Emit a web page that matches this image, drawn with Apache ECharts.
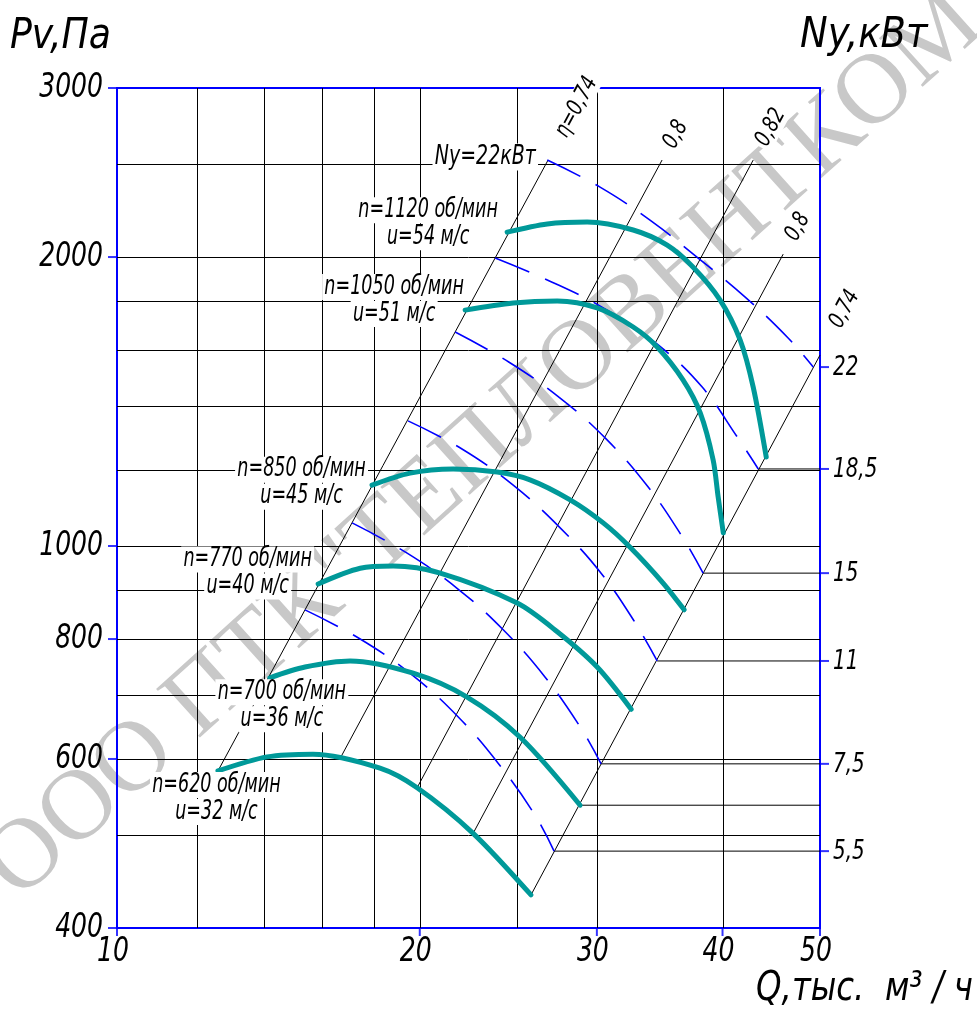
<!DOCTYPE html>
<html>
<head>
<meta charset="utf-8">
<script src="https://cdn.jsdelivr.net/npm/echarts@6/dist/echarts.min.js"></script>
<style>
html, body { margin: 0; padding: 0; background: #fff; }
#chart { width: 977px; height: 1015px; }
</style>
</head>
<body>
<div id="chart"></div>
<script>
// axes
var qMin = 10, qMax = 50, pMin = 400, pMax = 3000;
var qTicks = [10, 20, 30, 40, 50];
var pTicks = [400, 600, 800, 1000, 2000, 3000];
var qGrid = [12, 14, 16, 18, 20, 25, 30, 40];
var pGrid = [500, 600, 700, 800, 900, 1000, 1200, 1400, 1600, 1800, 2000, 2500];

// характеристики вентилятора (Q тыс. м3/ч, Pv Па)
var q620 = [12.6, 14.1, 15.66, 18.26, 19.88, 22.6, 25.8];
var p620 = [583, 603, 607, 587, 560, 502, 433];
var q700 = [14.19, 15.38, 17.05, 19.7, 22.29, 25.17, 28.87];
var p700 = [729, 748, 759, 737, 696, 632, 537];
var q770 = [15.85, 17.45, 18.82, 20.96, 25.0, 27.4, 30.02, 32.45];
var p770 = [913, 948, 953, 937, 872, 814, 748, 676];
var q850 = [17.93, 19.56, 21.59, 23.88, 25.74, 28.22, 30.44, 32.37, 34.91, 36.64];
var p850 = [1157, 1191, 1203, 1194, 1172, 1117, 1057, 997, 915, 858];
var q1050 = [22.19, 24.77, 27.4, 30.02, 32.6, 34.44, 36.55, 38.01, 39.15, 39.6, 40.07];
var p1050 = [1761, 1791, 1800, 1770, 1691, 1612, 1489, 1376, 1229, 1125, 1032];
var q1120 = [24.43, 26.78, 29.34, 32.6, 35.24, 37.4, 39.78, 41.65, 42.91, 44.21];
var p1120 = [2123, 2165, 2175, 2134, 2058, 1952, 1804, 1639, 1464, 1238];
var speeds = ['620', '700', '770', '850', '1050', '1120'];
var tipSpeeds = ['32', '36', '40', '45', '51', '54'];

// линии КПД (низ и верх)
var etaNames = ['η=0,74', '0,8', '0,82', '0,8', '0,74'];
var etaQ = [[12.6, 26.83], [16.67, 34.83], [19.88, 42.91], [22.6, 45.96], [25.8, 50]];
var etaP = [[583, 2524], [601, 2524], [560, 2524], [502, 2014], [433, 1581]];

// линии мощности Ny
var powerNames = ['22', '18,5', '15', '11', '7,5', '5,5'];
var qN22 = [26.78, 30.22, 33.96, 37.83, 42.13, 46.48, 49.23];
var pN22 = [2524, 2365, 2181, 1995, 1817, 1647, 1536];
var qN185 = [23.77, 27.08, 30.72, 34.52, 38.18, 41.37, 43.41];
var pN185 = [1995, 1883, 1761, 1620, 1464, 1299, 1203];
var qN15 = [21.69, 24.54, 27.58, 30.64, 33.74, 36.55, 38.26];
var pN15 = [1671, 1554, 1426, 1293, 1152, 1019, 937];
var qN11 = [19.47, 22.03, 24.77, 27.52, 30.29, 32.82, 34.44];
var pN11 = [1350, 1262, 1157, 1047, 937, 829, 759];
var qN75 = [17.13, 19.43, 21.83, 24.21, 26.65, 28.93, 30.29];
var pN75 = [1057, 983, 902, 818, 730, 646, 593];
var qN55 = [15.38, 17.45, 19.65, 21.83, 23.93, 26.05, 27.2];
var pN55 = [858, 800, 734, 664, 594, 524, 481];

var FONT = '"DejaVu Sans Condensed", "DejaVu Sans", sans-serif';
var BLUE = '#0000ff';
var TEAL = '#009999';

var curveQ = [q620, q700, q770, q850, q1050, q1120];
var curveP = [p620, p700, p770, p850, p1050, p1120];
var powerQ = [qN22, qN185, qN15, qN11, qN75, qN55];
var powerP = [pN22, pN185, pN15, pN11, pN75, pN55];

// сдвиг подписей, px
var curveLabelShift = [[-1.5, 27.5], [12, 28], [-70.5, -11], [-70.5, -2], [-71, -9.5], [-79, -8.5]];
var etaLabelShift = [60, 29, 37, 31, 52];
var ETA_ANGLE = 61.6 * Math.PI / 180;

function pairs(qs, ps) {
    return qs.map(function (q, i) { return [q, ps[i]]; });
}
function last(a) { return a[a.length - 1]; }

// узкий наклонный текст
function textEl(x, y, text, size, opts) {
    opts = opts || {};
    return {
        type: 'text', x: x, y: y,
        rotation: opts.rotation || 0,
        scaleX: opts.scaleX || 0.8,
        style: {
            text: text, font: 'italic ' + size + 'px ' + FONT, fill: '#000',
            align: opts.align || 'center', verticalAlign: 'middle',
            backgroundColor: opts.bg || null, padding: opts.bg ? [0, 3] : 0
        }
    };
}
function labelSeries(anchors, build, z) {
    return {
        type: 'custom', silent: true, z: z || 10,
        data: anchors,
        renderItem: function (params, api) {
            var c = api.coord([api.value(0), api.value(1)]);
            return { type: 'group', children: build(params.dataIndex, c) };
        }
    };
}

var series = [];

// сетка
series.push({
    type: 'custom',
    silent: true,
    z: 1,
    data: qGrid.map(function (v) { return [v, pMin]; }).concat(pGrid.map(function (v) { return [qMin, v]; })),
    renderItem: function (params, api) {
        var a, b;
        if (params.dataIndex < qGrid.length) {
            a = api.coord([api.value(0), pMin]);
            b = api.coord([api.value(0), pMax]);
            var x = Math.round(a[0]) + 0.5;
            return { type: 'line', shape: { x1: x, y1: a[1], x2: x, y2: b[1] }, style: { stroke: '#000', lineWidth: 1 } };
        }
        a = api.coord([qMin, api.value(1)]);
        b = api.coord([qMax, api.value(1)]);
        var y = Math.round(a[1]) + 0.5;
        return { type: 'line', shape: { x1: a[0], y1: y, x2: b[0], y2: y }, style: { stroke: '#000', lineWidth: 1 } };
    }
});

// линии КПД
etaQ.forEach(function (qs, i) {
    series.push({
        type: 'line', silent: true, z: 3, symbol: 'none',
        lineStyle: { color: '#000', width: 1 },
        data: pairs(qs, etaP[i])
    });
});

// линии мощности и выноски к правой оси
powerQ.forEach(function (qs, i) {
    series.push({
        type: 'line', silent: true, z: 4, symbol: 'none', smooth: 0.4,
        lineStyle: { color: BLUE, width: 1.6, type: [37, 17] },
        data: pairs(qs, powerP[i])
    });
    if (i > 0) {
        series.push({
            type: 'line', silent: true, z: 3, symbol: 'none',
            lineStyle: { color: '#000', width: 1 },
            data: [[last(qs), last(powerP[i])], [qMax, last(powerP[i])]]
        });
    }
});
series.push({
    type: 'line', silent: true, z: 3, symbol: 'none',
    lineStyle: { color: '#000', width: 1 },
    data: [[last(q700), last(p700)], [qMax, last(p700)]]
});

// характеристики
curveQ.forEach(function (qs, i) {
    series.push({
        type: 'line', silent: true, z: 5, symbol: 'none', smooth: 0.3,
        lineStyle: { color: TEAL, width: 5, cap: 'round', join: 'round' },
        data: pairs(qs, curveP[i])
    });
});

// подписи характеристик
series.push(labelSeries(curveQ.map(function (qs, i) { return [qs[0], curveP[i][0]]; }), function (i, c) {
    var cx = c[0] + curveLabelShift[i][0], cy = c[1] + curveLabelShift[i][1];
    return [
        textEl(cx, cy - 13.5, 'n=' + speeds[i] + ' об/мин', 26, { scaleX: 0.75, bg: '#fff' }),
        textEl(cx, cy + 13.5, 'u=' + tipSpeeds[i] + ' м/с', 26, { scaleX: 0.75, bg: '#fff' })
    ];
}));

// подписи КПД
series.push(labelSeries(etaQ.map(function (qs, i) { return [qs[1], etaP[i][1]]; }), function (i, c) {
    var d = etaLabelShift[i];
    return [textEl(c[0] + d * Math.cos(ETA_ANGLE), c[1] - d * Math.sin(ETA_ANGLE), etaNames[i], 23,
        { rotation: ETA_ANGLE, scaleX: 0.85, bg: '#fff' })];
}));

// Ny=22кВт
series.push(labelSeries([[qN22[0], pN22[0]]], function (i, c) {
    return [textEl(c[0] - 62, c[1] - 3, 'Ny=' + powerNames[0] + 'кВт', 27, { scaleX: 0.78, bg: '#fff' })];
}));

// деления осей
series.push({
    type: 'scatter', silent: true, z: 6, clip: false,
    symbol: 'rect', symbolSize: [9, 2], symbolOffset: [-4.5, 0], itemStyle: { color: BLUE },
    data: pTicks.map(function (v) { return [qMin, v]; })
});
series.push({
    type: 'scatter', silent: true, z: 6, clip: false,
    symbol: 'rect', symbolSize: [2, 8], symbolOffset: [0, 4], itemStyle: { color: BLUE },
    data: qTicks.map(function (v) { return [v, pMin]; })
});
series.push({
    type: 'scatter', silent: true, z: 6, clip: false,
    symbol: 'rect', symbolSize: [9, 2], symbolOffset: [4.5, 0], itemStyle: { color: BLUE },
    data: powerP.map(function (ps) { return [qMax, last(ps)]; })
});

series.push(labelSeries(pTicks.map(function (v) { return [qMin, v]; }), function (i, c) {
    return [textEl(c[0] - 14, c[1], String(pTicks[i]), 34, { align: 'right', scaleX: 0.82 })];
}));
series.push(labelSeries(qTicks.map(function (v) { return [v, pMin]; }), function (i, c) {
    return [textEl(c[0] - 4, c[1] + 24, String(qTicks[i]), 34, { scaleX: 0.82 })];
}));
series.push(labelSeries(powerP.map(function (ps) { return [qMax, last(ps)]; }), function (i, c) {
    return [textEl(c[0] + 13, c[1] + 1, powerNames[i], 27, { align: 'left', scaleX: 0.82 })];
}));

var option = {
    animation: false,
    grid: { left: 117, right: 157, top: 88, bottom: 87, show: true, borderColor: BLUE, borderWidth: 2, backgroundColor: 'transparent' },
    xAxis: {
        type: 'log', logBase: 10, min: qMin, max: qMax,
        axisLine: { show: false }, axisTick: { show: false }, axisLabel: { show: false }, splitLine: { show: false }
    },
    yAxis: {
        type: 'log', logBase: 10, min: pMin, max: pMax,
        axisLine: { show: false }, axisTick: { show: false }, axisLabel: { show: false }, splitLine: { show: false }
    },
    graphic: [
        {
            type: 'text', x: 500, y: 432, rotation: 42 * Math.PI / 180, z: -1, silent: true,
            style: { text: 'ООО ПТК"ТЕПЛОВЕНТКОМ"', font: '100px "Liberation Serif", serif', fill: '#c8c8c8', align: 'center', verticalAlign: 'middle' }
        },
        {
            type: 'text', x: 10, y: 37, scaleX: 0.96, silent: true,
            style: { text: 'Pv,Па', font: 'italic 42px ' + FONT, fill: '#000', align: 'left', verticalAlign: 'middle' }
        },
        {
            type: 'text', x: 800, y: 36, scaleX: 0.98, silent: true,
            style: { text: 'Ny,кВт', font: 'italic 42px ' + FONT, fill: '#000', align: 'left', verticalAlign: 'middle' }
        },
        {
            type: 'text', x: 973, y: 990, scaleX: 0.9, silent: true,
            style: { text: 'Q,тыс.  м³ / ч', font: 'italic 40px ' + FONT, fill: '#000', align: 'right', verticalAlign: 'middle' }
        }
    ],
    series: series
};

var chart = echarts.init(document.getElementById('chart'));
chart.setOption(option);
</script>
</body>
</html>
